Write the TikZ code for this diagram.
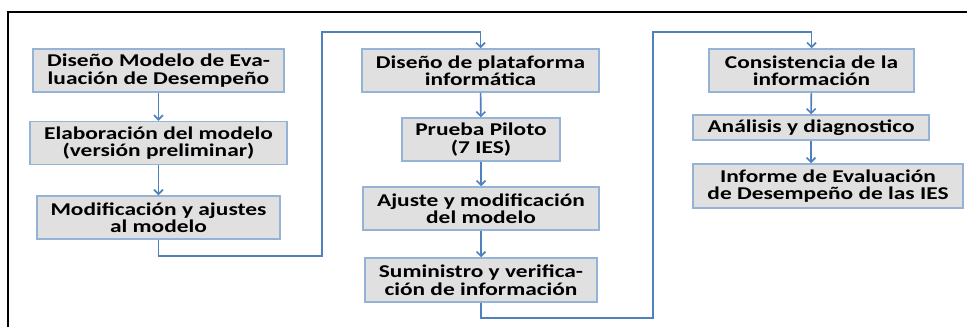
\documentclass[tikz,border=0pt]{standalone}
\usepackage{fontspec}
\setmainfont[FakeStretch=1.3]{Carlito}
\usetikzlibrary{arrows.meta}
\definecolor{boxfill}{HTML}{E0E0E0}
\definecolor{boxline}{HTML}{95B3D7}
\definecolor{flowblue}{HTML}{4F81BD}
\tikzset{
	stage_box/.style = {
		align=center,
		inner sep=0pt,
		text centered,
		font=\fontsize{18}{17.5}\selectfont\bfseries,
		rectangle,
		draw=boxline,
		fill=boxfill,
		line width=1.5pt,
		minimum height=43pt
	},
	stage_box_low/.style = {
		stage_box,
		minimum height=25pt
	},
	flow/.style = {
		draw=flowblue,
		line width=1.6pt,
		-{Straight Barb[length=4.5pt,width=9pt]}
	},
}

\begin{document}
\begin{tikzpicture}[x=1pt, y=-1pt]
\useasboundingbox (0,0) rectangle (967,327);
\draw[line width=2.5pt] (8,327) -- (8,12) -- (967,12);
% first column
\node [stage_box, minimum width=251pt] (b1) at (158.5,70.5) {Diseño Modelo de Eva-\\luación de Desempeño};
\node [stage_box, minimum width=257pt] (b2) at (158.5,143) {Elaboración del modelo\\(versión preliminar)};
\node [stage_box, minimum width=243pt] (b3) at (158.5,217.5) {Modificación y ajustes\\al modelo};
% second column
\node [stage_box, minimum width=237pt] (b4) at (480.5,70.5) {Diseño de plataforma\\informática};
\node [stage_box, minimum width=158pt] (b5) at (481,139.5) {Prueba Piloto\\(7 IES)};
\node [stage_box, minimum width=236pt] (b6) at (481,208.5) {Ajuste y modificación\\del modelo};
\node [stage_box, minimum width=232pt, minimum height=44pt] (b7) at (481,280) {Suministro y verifica-\\ción de información};
% third column
\node [stage_box, minimum width=205pt] (b8) at (811.5,70.5) {Consistencia de la\\información};
\node [stage_box_low, minimum width=236pt] (b9) at (811,127.5) {Análisis y diagnostico};
\node [stage_box, minimum width=270pt, minimum height=44pt] (b10) at (828,186) {Informe de Evaluación\\de Desempeño de las IES};
\coordinate (c1a) at (322,256);
\coordinate (c1b) at (322,32);
\coordinate (c2a) at (653,318);
\coordinate (c2b) at (653,32);
\draw[flow] (b1) -- (b2);
\draw[flow] (b2) -- (b3);
\draw[flow] (b3.south) |- (c1a) -- (c1b) -| (b4.north);
\draw[flow] (b4) -- (b5);
\draw[flow] (b5) -- (b6);
\draw[flow] (b6) -- (b7);
\draw[flow] (b7.south) |- (c2a) -- (c2b) -| (b8.north);
\draw[flow] (b8) -- (b9);
\draw[flow] (b9.south) -- (b9.south |- b10.north);
\end{tikzpicture}
\end{document}
